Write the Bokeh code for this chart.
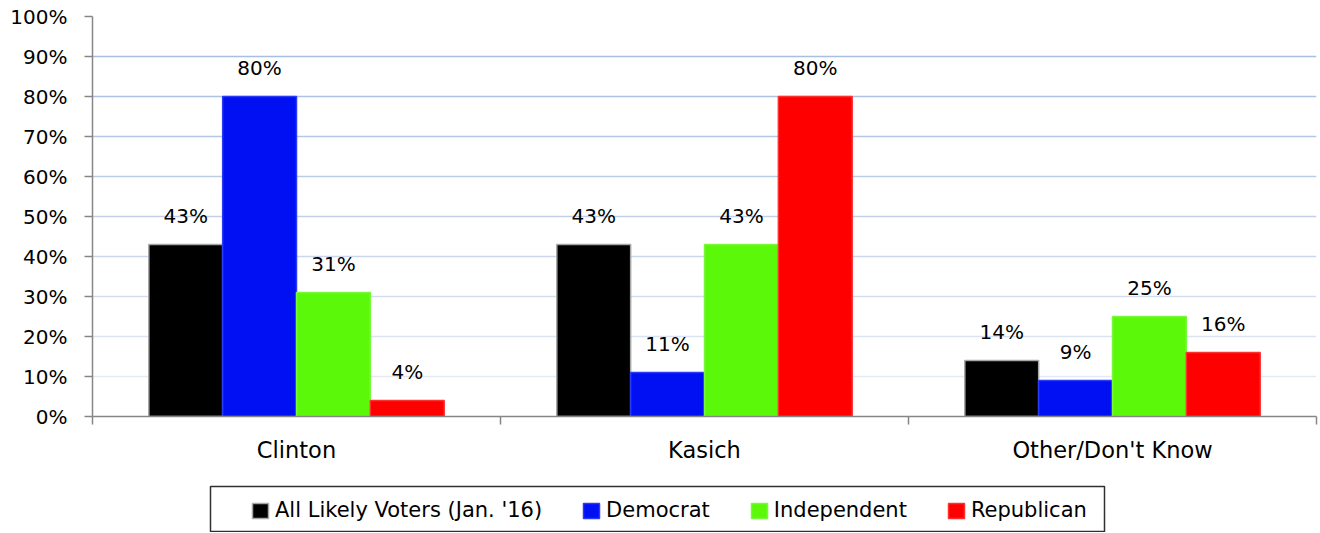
from bokeh.plotting import figure
from bokeh.layouts import column
from bokeh.models import (ColumnDataSource, Range1d, FixedTicker, LinearAxis, Grid,
                          Legend, LegendItem, LabelSet, BoxAnnotation)
from bokeh.core.properties import value
from bokeh.transform import dodge
from bokeh.embed import file_html
from bokeh.resources import INLINE

# ---- data ----
categories = ["Clinton", "Kasich", "Other/Don't Know"]
series_names = ["All Likely Voters (Jan. '16)", "Democrat", "Independent", "Republican"]
all_voters = [43, 43, 14]
democrat = [80, 11, 9]
independent = [31, 43, 25]
republican = [4, 80, 16]
y_ticks = [0, 10, 20, 30, 40, 50, 60, 70, 80, 90, 100]
y_tick_labels = ["0%", "10%", "20%", "30%", "40%", "50%", "60%", "70%", "80%", "90%", "100%"]

series_values = [all_voters, democrat, independent, republican]
fill_colors = ["#000000", "#0010F2", "#5CF80A", "#FF0000"]
line_colors = ["#A6A6A6", "#2A3AF5", "#7AF93A", "#FF3030"]
offsets = [-0.2715, -0.0905, 0.0905, 0.2715]
bar_w = 0.181

FONT = "DejaVu Sans"
W, LEFT, RIGHT = 1318, 92, 2

centers = [i + 0.5 for i in range(len(categories))]
data = {"x": centers}
for k, vals in enumerate(series_values):
    data["s%d" % k] = vals
    data["l%d" % k] = ["%d%%" % v for v in vals]
source = ColumnDataSource(data)

p = figure(width=W, height=470, output_backend="svg", toolbar_location=None,
           x_range=Range1d(0, len(categories)), y_range=Range1d(0, 100),
           min_border_left=LEFT, min_border_right=RIGHT, min_border_top=16, min_border_bottom=54,
           x_axis_type=None, y_axis_type=None)
p.outline_line_color = None
p.background_fill_color = "white"
p.border_fill_color = "white"

grid_colors = ["#E3EAF5", "#DAE3F2", "#D2DDEF", "#CAD7EC", "#C2D1E9",
               "#BBCCE7", "#B4C7E5", "#AEC3E4", "#A9BFE2", "#A6BDE1"]
for t, c in zip(y_ticks[1:], grid_colors):
    g = Grid(dimension=1, ticker=FixedTicker(ticks=[t]), grid_line_color=c, grid_line_width=1.5)
    p.add_layout(g, "center")

for k in range(len(series_names)):
    p.vbar(x=dodge("x", offsets[k], range=p.x_range), top="s%d" % k, width=bar_w,
           source=source, fill_color=fill_colors[k], line_color=line_colors[k], line_width=1.5)
    lbl = LabelSet(x=dodge("x", offsets[k], range=p.x_range), y="s%d" % k, text="l%d" % k,
                   source=source, text_align="center", text_baseline="bottom", y_offset=17,
                   text_font=value(FONT), text_font_size="20px", text_color="#000000")
    p.add_layout(lbl)

yax = LinearAxis(ticker=FixedTicker(ticks=y_ticks))
yax.major_label_overrides = {t: s for t, s in zip(y_ticks, y_tick_labels)}
yax.axis_line_color = "#868686"
yax.axis_line_width = 1.5
yax.major_tick_line_color = "#868686"
yax.major_tick_line_width = 1.5
yax.major_tick_out = 8
yax.major_tick_in = 0
yax.minor_tick_line_color = None
yax.major_label_text_font = FONT
yax.major_label_text_font_size = "20px"
yax.major_label_text_color = "#000000"
yax.major_label_standoff = 17
p.add_layout(yax, "left")

xax = LinearAxis(ticker=FixedTicker(ticks=centers, minor_ticks=list(range(len(categories) + 1))))
xax.major_label_overrides = {c: n for c, n in zip(centers, categories)}
xax.axis_line_color = "#868686"
xax.axis_line_width = 1.5
xax.major_tick_line_color = None
xax.minor_tick_line_color = "#868686"
xax.minor_tick_line_width = 1.5
xax.minor_tick_out = 8
xax.minor_tick_in = 0
xax.major_label_text_font = FONT
xax.major_label_text_font_size = "22.5px"
xax.major_label_text_color = "#000000"
xax.major_label_standoff = 12
p.add_layout(xax, "below")

# legend strip under the chart: axis-less figure whose ranges are in page pixels
LH = 62
lf = figure(width=W, height=LH, output_backend="svg", toolbar_location=None,
            x_range=Range1d(LEFT, W - RIGHT), y_range=Range1d(470 + LH, 470),
            min_border_left=LEFT, min_border_right=RIGHT, min_border_top=0, min_border_bottom=0,
            x_axis_type=None, y_axis_type=None)
lf.outline_line_color = None
lf.grid.visible = False
lf.add_layout(BoxAnnotation(left=210, right=1104, top=486, bottom=531,
                            fill_color="white", fill_alpha=1,
                            line_color="#303030", line_alpha=1, line_width=1.5))
stand_ins = []
for k in range(len(series_names)):
    stand_ins.append(lf.vbar(x="x", top="s%d" % k, width=0.1, source=source, visible=False,
                             fill_color=fill_colors[k], line_color=line_colors[k], line_width=1.5))

legend = Legend(items=[LegendItem(label=n, renderers=[r]) for n, r in zip(series_names, stand_ins)],
                orientation="horizontal", location=(250 - LEFT, 10))
legend.label_text_font = FONT
legend.label_text_font_size = "21px"
legend.label_text_color = "#000000"
legend.glyph_width = 20
legend.glyph_height = 19
legend.label_height = 24
legend.label_standoff = 5
legend.spacing = 39
legend.padding = 0
legend.margin = 0
legend.border_line_color = None
legend.background_fill_alpha = 0
legend.inactive_fill_alpha = 0
lf.add_layout(legend, "center")

layout = column(p, lf, spacing=0)
open("out.html", "w").write(file_html(layout, INLINE))
